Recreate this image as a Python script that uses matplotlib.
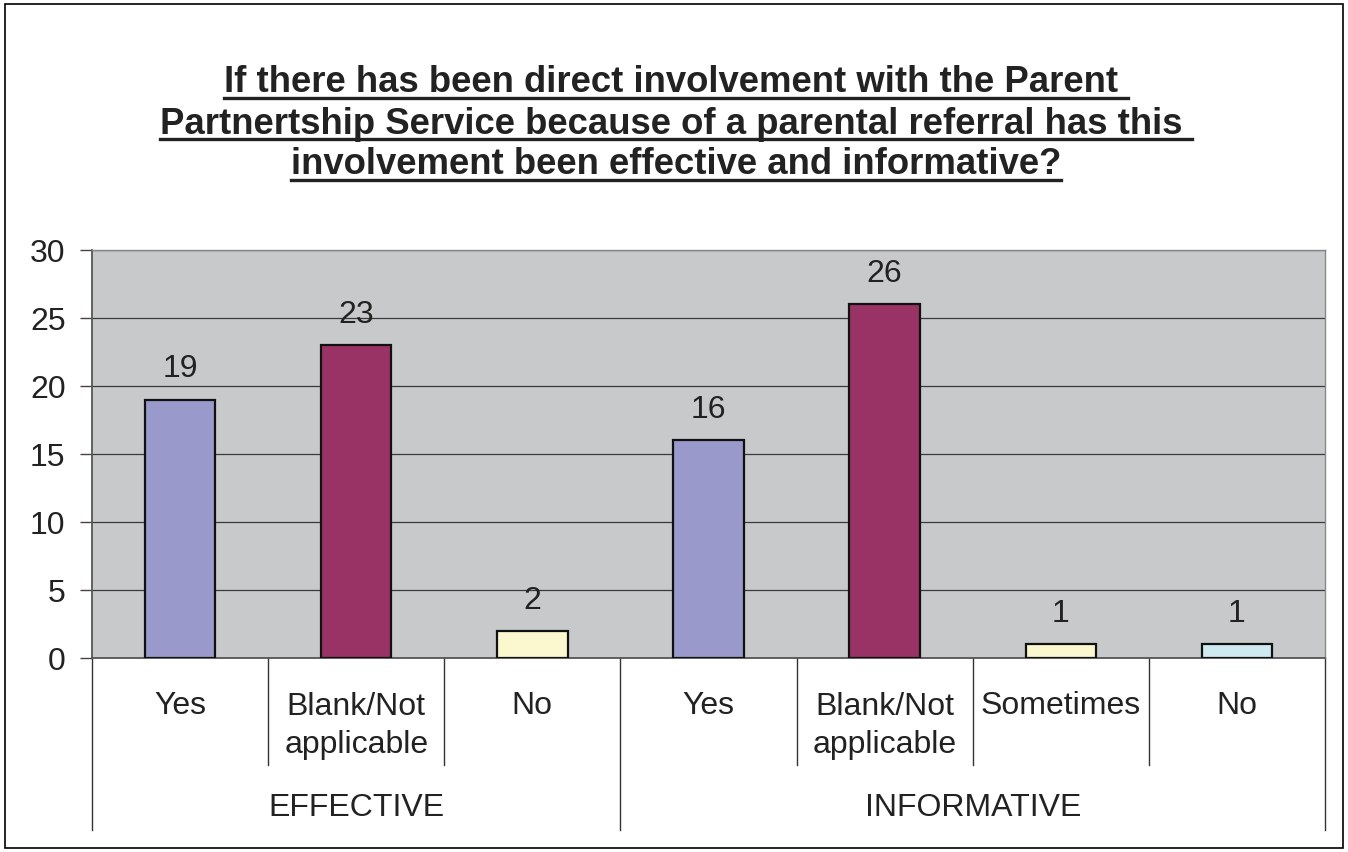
import matplotlib
matplotlib.use("Agg")
import matplotlib.pyplot as plt
from matplotlib.lines import Line2D
from matplotlib.patches import Rectangle

plt.rcParams['font.family'] = ['Liberation Sans', 'DejaVu Sans']

# Survey answers, two questions side by side
groups = ["EFFECTIVE", "INFORMATIVE"]
effective_labels = ["Yes", "Blank/Not\napplicable", "No"]
effective_values = [19, 23, 2]
informative_labels = ["Yes", "Blank/Not\napplicable", "Sometimes", "No"]
informative_values = [16, 26, 1, 1]

title_lines = [
    "If there has been direct involvement with the Parent ",
    "Partnertship Service because of a parental referral has this ",
    "involvement been effective and informative?",
]

answer_colors = {
    "Yes": "#9999CC",
    "Blank/Not\napplicable": "#993366",
    "Sometimes": "#FBF7CE",
}
no_colors = ["#FBF7CE", "#CFE9F1"]

labels = effective_labels + informative_labels
values = effective_values + informative_values
colors = [answer_colors.get(l, None) for l in labels]
colors[2] = no_colors[0]
colors[6] = no_colors[1]

FS = 23
W, H = 1348, 852
fig = plt.figure(figsize=(W / 100, H / 100), dpi=100)
fig.patch.set_facecolor("white")

# outer frame
fig.add_artist(Rectangle((5 / W, 4 / H), (1343 - 5) / W, (848 - 4) / H,
                         transform=fig.transFigure, fill=False,
                         edgecolor="#000000", linewidth=1.2))

ax = fig.add_axes([92 / W, (H - 658) / H, (1325 - 92) / W, (658 - 250) / H])
ax.set_facecolor("#C8C9CB")

x = list(range(len(values)))
bars = ax.bar(x, values, width=0.4, color=colors, edgecolor="#111111",
              linewidth=1.6, zorder=3)
for xi, v in zip(x, values):
    ax.annotate(str(v), (xi, v), xytext=(0, 11), textcoords="offset points",
                ha="center", va="bottom", fontsize=FS, color="#222222")

ax.set_xlim(-0.5, len(values) - 0.5)
ax.set_ylim(0, 30)
ax.set_yticks(range(0, 31, 5))
ax.yaxis.grid(True, color="#3a3a3a", linewidth=0.9, zorder=0)
ax.set_axisbelow(True)
ax.tick_params(axis="y", labelsize=FS, length=9, width=1.0, color="#444444",
               pad=10, labelcolor="#222222")
ax.set_xticks([])
for side in ["left", "bottom"]:
    ax.spines[side].set_color("#555555")
    ax.spines[side].set_linewidth(1.3)
for side in ["top", "right"]:
    ax.spines[side].set_color("#888888")
    ax.spines[side].set_linewidth(1.0)

# category labels and separators below the axis
trans = ax.get_xaxis_transform()
ax_h = 658 - 250
short_y = -(765 - 658) / ax_h
long_y = -(830 - 658) / ax_h
for xi, l in zip(x, labels):
    if "\n" in l:
        ax.text(xi, -(726 - 658) / ax_h, l, transform=trans, ha="center",
                va="center", fontsize=FS, color="#222222", linespacing=1.35)
    else:
        ax.text(xi, -(706 - 658) / ax_h, l, transform=trans, ha="center",
                va="center", fontsize=FS, color="#222222")
n_eff = len(effective_values)
for b in range(len(values) + 1):
    xb = b - 0.5
    yb = long_y if b in (0, n_eff, len(values)) else short_y
    ax.add_line(Line2D([xb, xb], [0, yb], transform=trans, color="#333333",
                       linewidth=1.0, clip_on=False))
group_centers = [(n_eff - 1) / 2, n_eff + (len(informative_values) - 1) / 2]
for gx, g in zip(group_centers, groups):
    ax.text(gx, -(808 - 658) / ax_h, g, transform=trans, ha="center",
            va="center", fontsize=FS, color="#222222")

# underlined, bold title
title_y = [83, 124, 165]
texts = []
for line, ty in zip(title_lines, title_y):
    t = fig.text(676 / W, 1 - ty / H, line, ha="center", va="center",
                 fontsize=26.3, fontweight="bold", color="#222222")
    texts.append(t)
fig.canvas.draw()
renderer = fig.canvas.get_renderer()
for t in texts:
    bb = t.get_window_extent(renderer)
    uy = bb.y0 + 3
    fig.add_artist(Line2D([bb.x0 / W, bb.x1 / W], [uy / H, uy / H],
                          transform=fig.transFigure, color="#222222",
                          linewidth=2.4))

fig.savefig("out.png", dpi=100)
